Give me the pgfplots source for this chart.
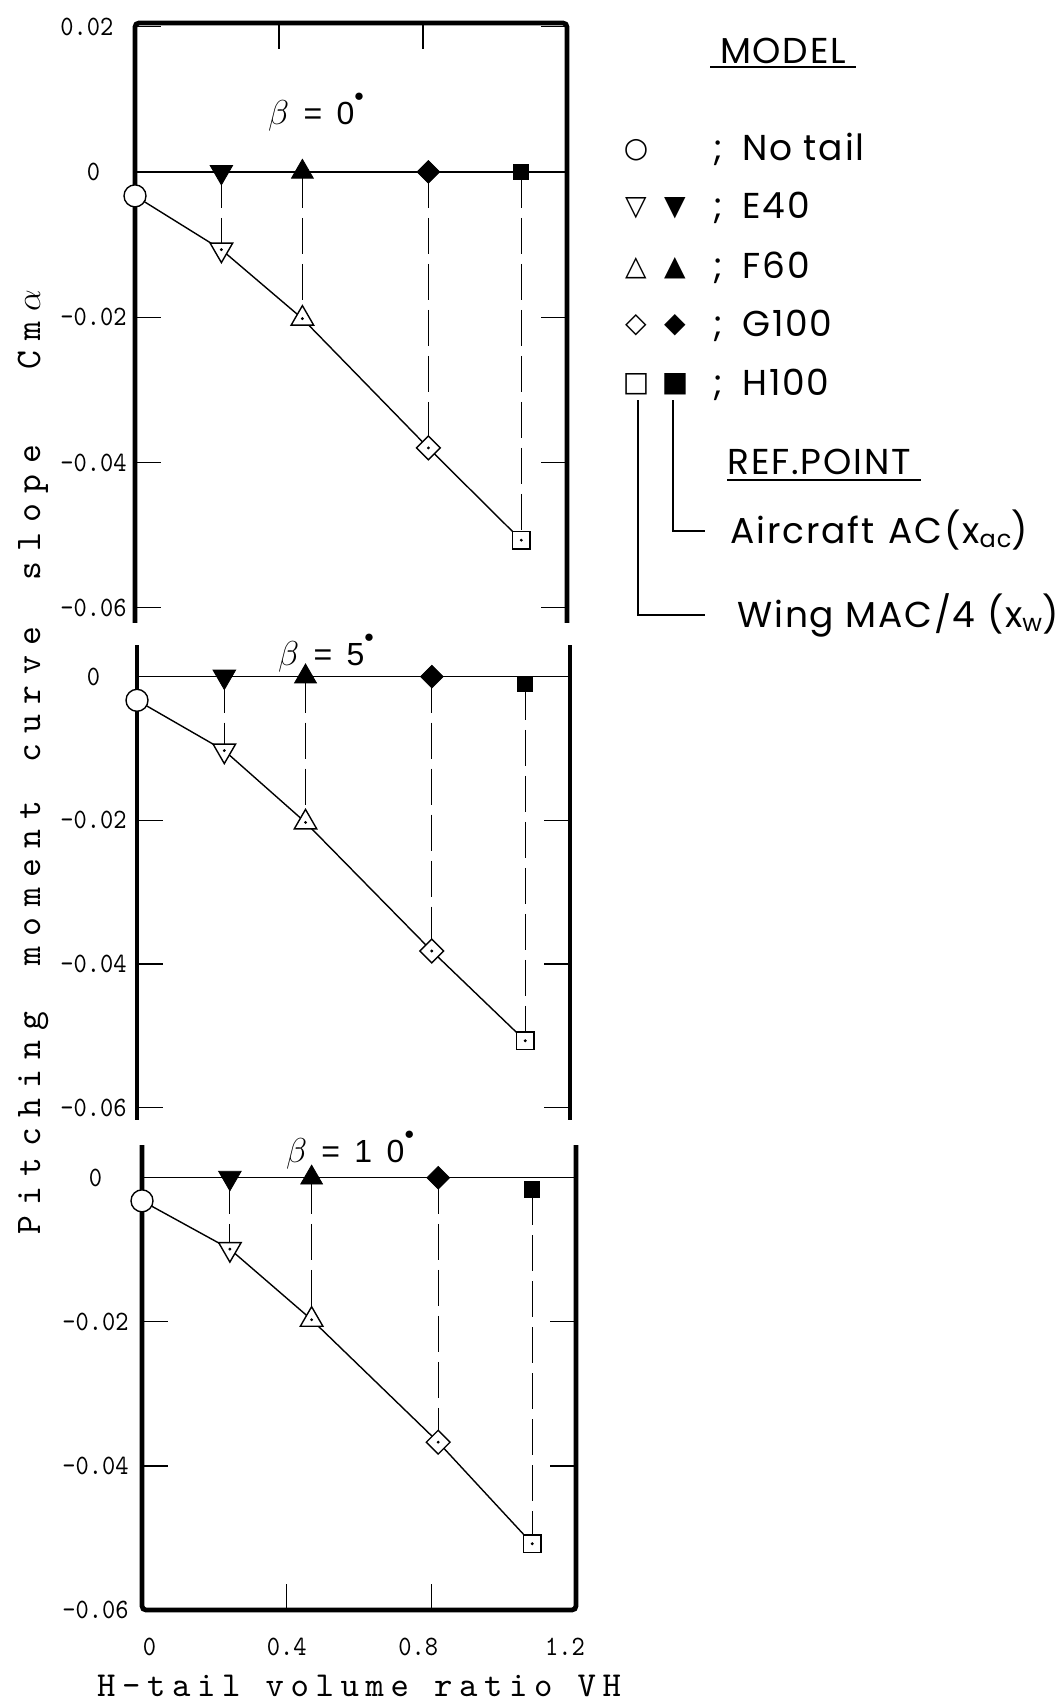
\documentclass[border=0pt]{standalone}
\usepackage{pgfplots}
\pgfplotsset{compat=1.18}
\usepackage{pgfplotstable}
\usepackage{graphicx}
\usepackage{fontspec}
\setmainfont{Liberation Sans}
\newfontfamily\legendfont{Poppins}[LetterSpace=5]
\newfontfamily\symbolfont{DejaVu Sans}
\newfontfamily\betafont{Liberation Sans}
\newfontfamily\tickfont{lmmono10-regular.otf}[FakeStretch=0.9]
\newfontfamily\ylabelfont{lmmono10-regular.otf}[LetterSpace=28.6]
\newfontfamily\xlabelfont{lmmono10-regular.otf}[LetterSpace=19]

% Cm_alpha against H-tail volume ratio.
% wing: about the wing MAC/4, ac: about the aircraft AC (nan = no tail)
\pgfplotstableread{
vh     wing     ac
0.000  -0.0033  nan
0.240  -0.0107  0.0000
0.465  -0.0202  0.0000
0.815  -0.0380  0.0000
1.073  -0.0507  0.0000
}\betazero
\pgfplotstableread{
vh     wing     ac
0.000  -0.0033  nan
0.242  -0.0103  0.0000
0.467  -0.0203  0.0000
0.817  -0.0382  0.0000
1.076  -0.0507  -0.0010
}\betafive
\pgfplotstableread{
vh     wing     ac
0.000  -0.0032  nan
0.243  -0.0099  0.0000
0.469  -0.0197  0.0000
0.819  -0.0367  0.0000
1.079  -0.0508  -0.0016
}\betaten

\tikzset{border/.style={black, line width=2.4pt, rounded corners=2pt}}
\pgfplotsset{
  panel/.style={
    scale only axis, clip=false,
    xmin=0, xmax=1.2,
    axis line style={draw=none},
    tick align=inside, major tick length=13pt,
    tick style={black, line width=0.6pt},
    ytick pos=both,
    scaled y ticks=false,
    yticklabel style={font=\fontsize{14}{14}\tickfont, anchor=west, inner sep=0pt},
    xticklabel style={font=\fontsize{14}{14}\tickfont, anchor=north, inner sep=0pt, yshift=-14pt},
  },
}

% one panel: wing MAC/4 curve, AC reference line, drops and marks
\newcommand\drawpanel[1]{%
  \addplot[black, line width=0.6pt] coordinates {(0,0) (1.2,0)};
  \addplot[draw=none, mark=none,
    error bars/.cd, y dir=minus, y explicit, error mark=none,
    error bar style={black, line width=0.6pt, dash pattern=on 18pt off 5pt}]
    table[x=vh, y=ac, y error expr=\thisrow{ac}-(\thisrow{wing})] {#1};
  \addplot[black, line width=0.7pt, mark=none] table[x=vh, y=wing] {#1};
  % wing MAC/4 reference (open)
  \addplot[only marks, mark=*, mark size=5.5pt, mark options={fill=white, draw=black, line width=0.7pt},
    restrict x to domain=-0.1:0.1] table[x=vh, y=wing] {#1};
  \addplot[only marks, mark=triangle*, mark size=6.5pt, mark options={fill=white, draw=black, line width=0.7pt, rotate=180},
    restrict x to domain=0.1:0.35] table[x=vh, y=wing] {#1};
  \addplot[only marks, mark=triangle*, mark size=6.5pt, mark options={fill=white, draw=black, line width=0.7pt},
    restrict x to domain=0.35:0.6] table[x=vh, y=wing] {#1};
  \addplot[only marks, mark=square*, mark size=4.2pt, mark options={fill=white, draw=black, line width=0.7pt, rotate=45},
    restrict x to domain=0.6:0.95] table[x=vh, y=wing] {#1};
  \addplot[only marks, mark=square*, mark size=4.4pt, mark options={fill=white, draw=black, line width=0.7pt},
    restrict x to domain=0.95:1.2] table[x=vh, y=wing] {#1};
  \addplot[only marks, mark=*, mark size=0.5pt, black, restrict x to domain=0.1:1.2] table[x=vh, y=wing] {#1};
  % aircraft AC reference (filled)
  \addplot[only marks, mark=triangle*, mark size=6.5pt, mark options={fill=black, draw=black, rotate=180},
    restrict x to domain=0.1:0.35] table[x=vh, y=ac] {#1};
  \addplot[only marks, mark=triangle*, mark size=6.3pt, mark options={fill=black, draw=black},
    restrict x to domain=0.35:0.6] table[x=vh, y=ac] {#1};
  \addplot[only marks, mark=square*, mark size=4pt, mark options={fill=black, draw=black, rotate=45},
    restrict x to domain=0.6:0.95] table[x=vh, y=ac] {#1};
  \addplot[only marks, mark=square*, mark size=3.8pt, mark options={fill=black, draw=black},
    restrict x to domain=0.95:1.2] table[x=vh, y=ac] {#1};
}

\newcommand\degdot{\raisebox{0.7em}{\scalebox{0.55}{$\bullet$}}}
\newcommand\sep{\hspace{0.45em}}

\begin{document}
\begin{tikzpicture}
\path[use as bounding box] (0pt,0pt) rectangle (532pt,-853pt);

% beta = 0
\begin{axis}[panel, at={(67.5pt,-11.5pt)}, anchor=north west,
  width=216pt, height=300pt, ymin=-0.0621, ymax=0.0205,
  xtick={0.4,0.8}, xtick pos=right, xticklabels={},
  ytick={-0.06,-0.04,-0.02,0,0.02},
  yticklabels={-0.06,-0.04,-0.02,\phantom{-0}0,0.02},
  yticklabel style={xshift=-37.5pt}]
  \drawpanel{\betazero}
  \draw[border] (rel axis cs:0,0) -- (rel axis cs:0,1) -- (rel axis cs:1,1) -- (rel axis cs:1,0);
\end{axis}

% beta = 5
\begin{axis}[panel, at={(68.5pt,-322.5pt)}, anchor=north west,
  width=216.5pt, height=237.4pt, ymin=-0.0617, ymax=0.0044,
  xtick=\empty,
  ytick={-0.06,-0.04,-0.02,0},
  yticklabels={-0.06,-0.04,-0.02,\phantom{-0}0},
  yticklabel style={xshift=-38.5pt}]
  \drawpanel{\betafive}
  \draw[border] (rel axis cs:0,0) -- (rel axis cs:0,1);
  \draw[border] (rel axis cs:1,0) -- (rel axis cs:1,1);
\end{axis}

% beta = 10
\begin{axis}[panel, at={(71pt,-572.5pt)}, anchor=north west,
  width=217pt, height=232.5pt, ymin=-0.06, ymax=0.00455,
  xtick={0,0.4,0.8,1.2}, xtick pos=left,
  xticklabels={\hspace*{7.6pt}0, 0.4, 0.8\hspace*{13pt}, 1.2\hspace*{11pt}},
  ytick={-0.06,-0.04,-0.02,0},
  yticklabels={-0.06,-0.04,-0.02,\phantom{-0}0},
  yticklabel style={xshift=-40pt}]
  \drawpanel{\betaten}
  \draw[border] (rel axis cs:0,1) -- (rel axis cs:0,0) -- (rel axis cs:1,0) -- (rel axis cs:1,1);
\end{axis}

% panel titles
\node[font=\fontsize{16}{16}\betafont] at (158pt,-56pt) {$\beta$\sep=\sep0\degdot};
\node[font=\fontsize{16}{16}\betafont] at (163pt,-326.5pt) {$\beta$\sep=\sep5\degdot};
\node[font=\fontsize{16}{16}\betafont] at (175pt,-575pt) {$\beta$\sep=\sep1\sep0\degdot};

% axis titles
\node[rotate=90, anchor=base, font=\fontsize{18}{18}\ylabelfont] at (20pt,-381pt)
  {Pitching\hspace{23pt}moment\hspace{19pt}curve\hspace{23pt}slope\hspace{38pt}C\hspace{5pt}m\hspace{5pt}$\alpha$};
\node[anchor=base, font=\fontsize{17.5}{17.5}\xlabelfont] at (179.5pt,-848pt) {H-tail volume ratio VH};

% key
\begin{scope}[every node/.style={inner sep=0pt}]
  \node[font=\fontsize{18}{18}\legendfont] at (391.5pt,-25.5pt) {MODEL};
  \draw[line width=0.7pt] (355pt,-33.5pt) -- (428pt,-33.5pt);
  \foreach \yy/\a/\b/\name in {-80.5/○//No tail, -109.5/▽/▼/E40, -139.5/△/▲/F60, -168/◇/◆/G100, -197.5/□/■/H100}{
    \node[font=\fontsize{14}{14}\symbolfont] at (318pt,\yy pt+5.5pt) {\a};
    \node[font=\fontsize{14}{14}\symbolfont] at (337.5pt,\yy pt+5.5pt) {\b};
    \node[anchor=base, font=\fontsize{18}{18}\legendfont] at (359pt,\yy pt) {;};
    \node[anchor=base west, font=\fontsize{18}{18}\legendfont] at (371pt,\yy pt) {\name};
  }
  \node[anchor=base west, font=\fontsize{18}{18}\legendfont] at (363.5pt,-237pt) {REF.POINT};
  \draw[line width=0.7pt] (363.5pt,-240pt) -- (460.5pt,-240pt);
  \node[anchor=base west, font=\fontsize{18}{18}\legendfont] at (365pt,-271.5pt)
    {Aircraft\hspace{0.4em}AC(x{\fontsize{12}{12}\selectfont\raisebox{-0.2em}{ac}})};
  \node[anchor=base west, font=\fontsize{18}{18}\legendfont] at (368.5pt,-313.5pt)
    {Wing MAC/4 (x{\fontsize{12}{12}\selectfont\raisebox{-0.2em}{w}})};
  \draw[line width=0.7pt] (336.5pt,-200pt) -- (336.5pt,-265.5pt) -- (352.5pt,-265.5pt);
  \draw[line width=0.7pt] (319pt,-200pt) -- (319pt,-307.5pt) -- (352.5pt,-307.5pt);
\end{scope}
\end{tikzpicture}
\end{document}
